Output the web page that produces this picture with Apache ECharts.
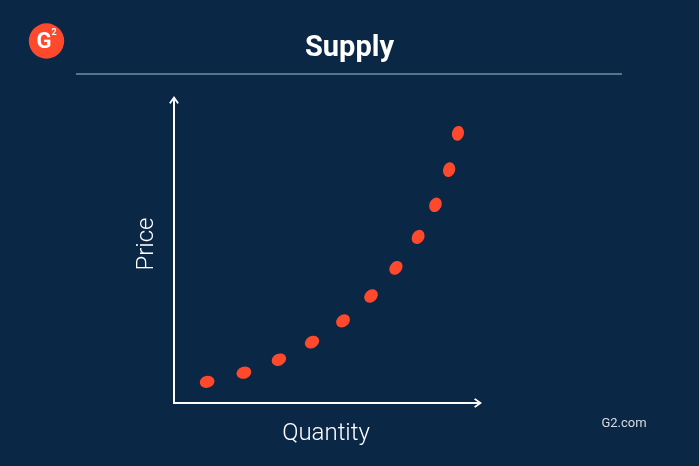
<!DOCTYPE html>
<html>
<head>
<meta charset="utf-8">
<style>
  html, body { margin: 0; padding: 0; background: #0a2746; }
  #chart { width: 699px; height: 466px; }
</style>
<script src="https://cdn.jsdelivr.net/npm/echarts@6/dist/echarts.min.js"></script>
</head>
<body>
<div id="chart"></div>
<script>
// Data (arbitrary units, 0-100 on both axes)
const titleText = 'Supply';
const xName = 'Quantity';
const yName = 'Price';
const sourceText = 'G2.com';
const quantity = [10.9, 23.0, 34.5, 45.4, 55.6, 64.8, 73.0, 80.3, 86.0, 90.5, 93.4];
const price    = [7.0, 10.0, 14.3, 20.1, 27.1, 35.3, 44.6, 54.8, 65.4, 77.0, 89.0];

const points = quantity.map((q, i) => [q, price[i]]);
function tangentAngle(i) {
  const a = points[Math.max(0, i - 1)];
  const b = points[Math.min(points.length - 1, i + 1)];
  return Math.atan2(b[1] - a[1], b[0] - a[0]) * 180 / Math.PI;
}

const chevron = 'path://M0,7 L5,0 L10,7 L8.6,8.3 L5,3.2 L1.4,8.3 Z';

const chart = echarts.init(document.getElementById('chart'), null, { renderer: 'canvas' });
chart.setOption({
  backgroundColor: '#0a2746',
  animation: false,
  title: {
    text: titleText,
    left: 'center',
    top: 29,
    textStyle: { color: '#ffffff', fontFamily: 'Roboto', fontWeight: 'bold', fontSize: 29 }
  },
  grid: { left: 174, top: 100, right: 221, bottom: 63, containLabel: false },
  xAxis: {
    type: 'value', min: 0, max: 100,
    axisLine: { show: true, onZero: false, lineStyle: { color: '#ffffff', width: 2 },
      symbol: ['none', chevron], symbolSize: [10, 8] },
    axisTick: { show: false }, axisLabel: { show: false }, splitLine: { show: false },
    name: xName, nameLocation: 'middle', nameGap: 19,
    nameTextStyle: { color: '#ffffff', fontFamily: 'Roboto', fontSize: 24, fontWeight: 300 }
  },
  yAxis: {
    type: 'value', min: 0, max: 100,
    axisLine: { show: true, onZero: false, lineStyle: { color: '#ffffff', width: 2 },
      symbol: ['none', chevron], symbolSize: [10, 8] },
    axisTick: { show: false }, axisLabel: { show: false }, splitLine: { show: false }
  },
  series: [{
    type: 'scatter',
    data: points,
    symbol: 'circle',
    symbolSize: [15, 12],
    symbolRotate: function (v, params) { return tangentAngle(params.dataIndex); },
    itemStyle: { color: '#ff492c', opacity: 1 },
    silent: true
  }],
  graphic: [
    { type: 'line', shape: { x1: 76, y1: 74, x2: 622, y2: 74 },
      style: { stroke: '#5d7189', lineWidth: 2 } },
    { type: 'circle', shape: { cx: 46.5, cy: 41, r: 17.7 }, style: { fill: '#ff492c' } },
    { type: 'text', x: 44, y: 42, style: { text: 'G', fill: '#ffffff',
      font: 'bold 22px Roboto', align: 'center', verticalAlign: 'middle' } },
    { type: 'text', x: 54, y: 33, style: { text: '2', fill: '#ffffff',
      font: 'bold 9px Roboto', align: 'center', verticalAlign: 'middle' } },
    { type: 'text', x: 147, y: 244, rotation: Math.PI / 2, style: { text: yName, fill: '#ffffff',
      font: '300 24px Roboto', align: 'center', verticalAlign: 'middle' } },
    { type: 'text', x: 624, y: 424, style: { text: sourceText, fill: '#d6dce3',
      font: 'normal 13px Roboto', align: 'center', verticalAlign: 'middle' } }
  ]
});
</script>
</body>
</html>
